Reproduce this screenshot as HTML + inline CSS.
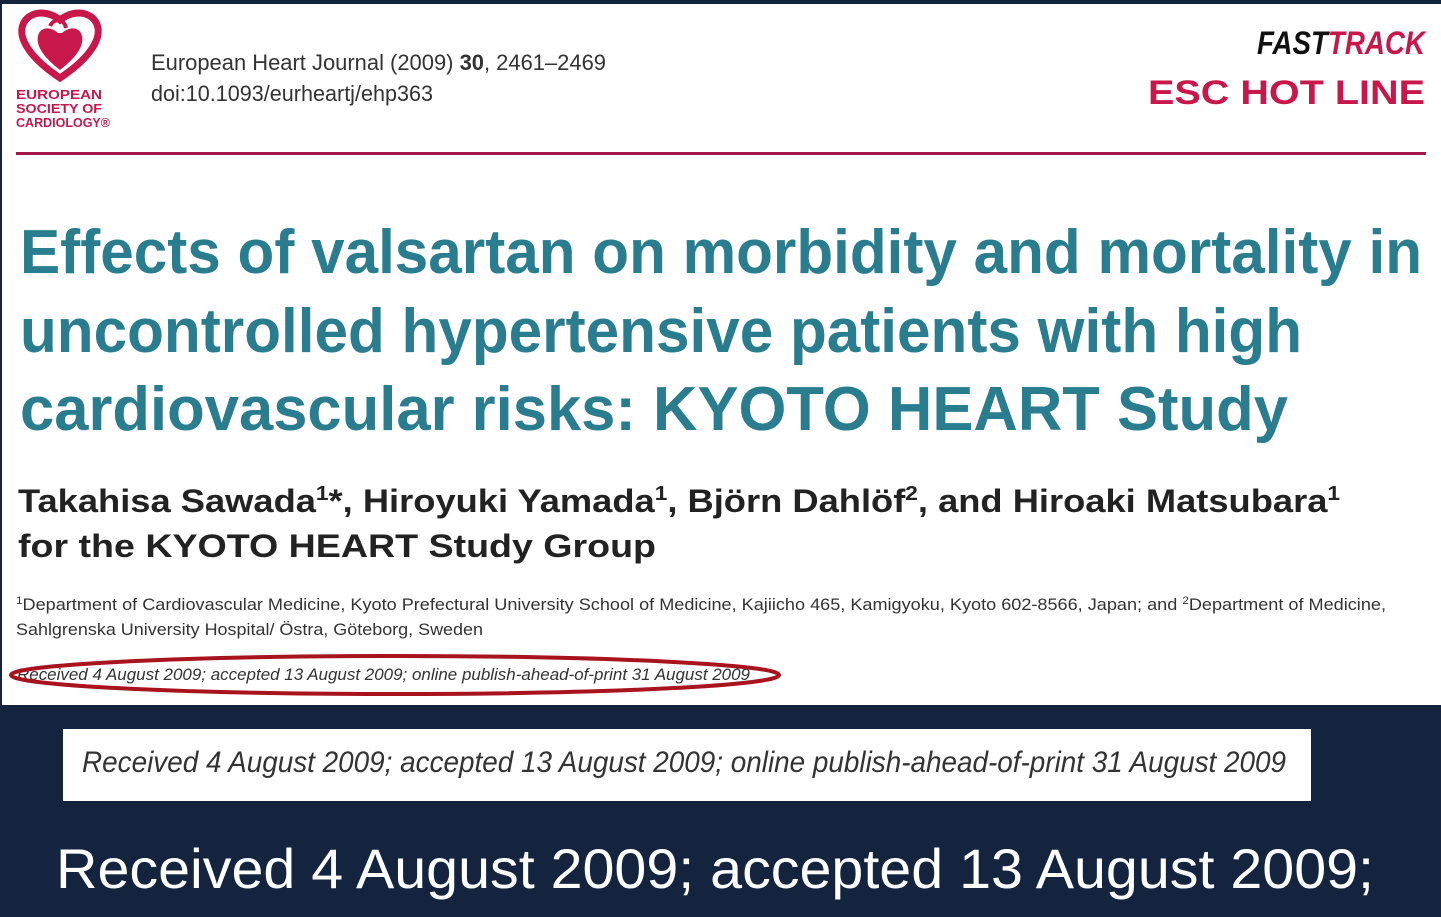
<!DOCTYPE html>
<html><head><meta charset="utf-8"><style>
html,body{margin:0;padding:0;background:#14243f;}
svg{display:block}
</style></head><body>
<svg width="1441" height="917" xmlns="http://www.w3.org/2000/svg" font-family="Liberation Sans, sans-serif">
<rect x="0" y="0" width="1441" height="917" fill="#14243f"/>
<rect x="2" y="4" width="1439" height="701" fill="#ffffff"/>
<!-- logo -->
<path d="M60 78 C30 58 20 40 22 28 C25 12 45 8 60 20 C75 8 95 12 98 28 C100 40 90 58 60 78 Z" fill="none" stroke="#c8174a" stroke-width="7"/>
<path d="M60 70 C42 56 36 45 38 36 C40 27 50 26 58 33 L62 33 C70 26 80 27 82 36 C84 45 78 56 60 70 Z" fill="#c8174a"/>
<path d="M50 26 C54 18 64 18 66 28" fill="none" stroke="#c8174a" stroke-width="4"/>
<g fill="#c8174a" font-size="13" font-weight="bold">
<text x="16" y="99" textLength="86" lengthAdjust="spacingAndGlyphs">EUROPEAN</text>
<text x="16" y="113" textLength="86" lengthAdjust="spacingAndGlyphs">SOCIETY OF</text>
<text x="16" y="127" textLength="94" lengthAdjust="spacingAndGlyphs">CARDIOLOGY®</text>
</g>
<g fill="#333" font-size="22">
<text x="151" y="70" textLength="455" lengthAdjust="spacingAndGlyphs">European Heart Journal (2009) <tspan font-weight="bold">30</tspan>, 2461–2469</text>
<text x="151" y="101" textLength="282" lengthAdjust="spacingAndGlyphs">doi:10.1093/eurheartj/ehp363</text>
</g>
<text x="1257" y="54" font-size="32" font-weight="bold" font-style="italic" textLength="168" lengthAdjust="spacingAndGlyphs"><tspan fill="#111">FAST</tspan><tspan fill="#c8174a">TRACK</tspan></text>
<text x="1148" y="104" font-size="34" font-weight="bold" fill="#c8174a" textLength="277" lengthAdjust="spacingAndGlyphs">ESC HOT LINE</text>
<rect x="16" y="152" width="1410" height="3" fill="#a3174a"/>
<g fill="#2a7d8e" font-size="62" font-weight="bold">
<text x="20" y="273" textLength="1402" lengthAdjust="spacingAndGlyphs">Effects of valsartan on morbidity and mortality in</text>
<text x="20" y="352" textLength="1282" lengthAdjust="spacingAndGlyphs">uncontrolled hypertensive patients with high</text>
<text x="20" y="430" textLength="1268" lengthAdjust="spacingAndGlyphs">cardiovascular risks: KYOTO HEART Study</text>
</g>
<g fill="#222" font-size="32" font-weight="bold">
<text x="18" y="512" textLength="1322" lengthAdjust="spacingAndGlyphs">Takahisa Sawada<tspan font-size="20" dy="-12">1</tspan><tspan dy="12">*, Hiroyuki Yamada</tspan><tspan font-size="20" dy="-12">1</tspan><tspan dy="12">, Björn Dahlöf</tspan><tspan font-size="20" dy="-12">2</tspan><tspan dy="12">, and Hiroaki Matsubara</tspan><tspan font-size="20" dy="-12">1</tspan></text>
<text x="18" y="557" textLength="638" lengthAdjust="spacingAndGlyphs">for the KYOTO HEART Study Group</text>
</g>
<g fill="#333" font-size="17">
<text x="16" y="610" textLength="1370" lengthAdjust="spacingAndGlyphs"><tspan font-size="11" dy="-6">1</tspan><tspan dy="6">Department of Cardiovascular Medicine, Kyoto Prefectural University School of Medicine, Kajiicho 465, Kamigyoku, Kyoto 602-8566, Japan; and </tspan><tspan font-size="11" dy="-6">2</tspan><tspan dy="6">Department of Medicine,</tspan></text>
<text x="16" y="635" textLength="467" lengthAdjust="spacingAndGlyphs">Sahlgrenska University Hospital/ Östra, Göteborg, Sweden</text>
<text x="17" y="680" font-style="italic" textLength="733" lengthAdjust="spacingAndGlyphs">Received 4 August 2009; accepted 13 August 2009; online publish-ahead-of-print 31 August 2009</text>
</g>
<ellipse cx="395" cy="675" rx="384" ry="19" fill="none" stroke="#a8141e" stroke-width="4"/>
<rect x="63" y="729" width="1248" height="72" fill="#ffffff"/>
<text x="82" y="772" font-size="30" font-style="italic" fill="#333" textLength="1204" lengthAdjust="spacingAndGlyphs">Received 4 August 2009; accepted 13 August 2009; online publish-ahead-of-print 31 August 2009</text>
<text x="56" y="888" font-size="56" fill="#ffffff" textLength="1318" lengthAdjust="spacingAndGlyphs">Received 4 August 2009; accepted 13 August 2009;</text>
</svg>
</body></html>
